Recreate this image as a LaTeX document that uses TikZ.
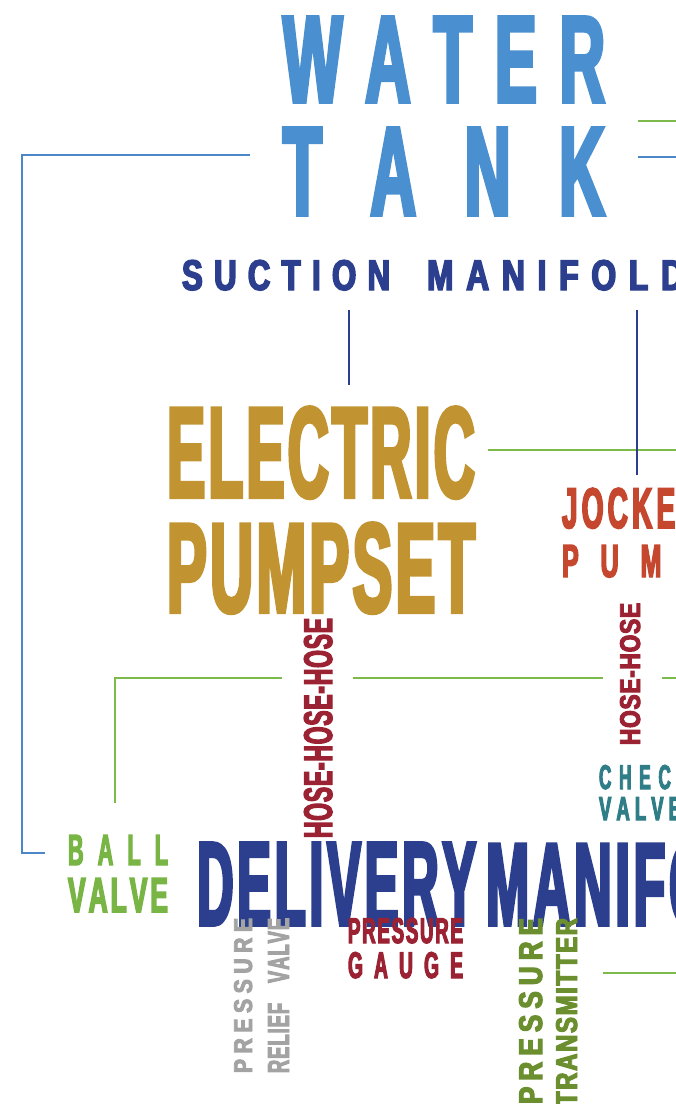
\documentclass[tikz,border=0pt]{standalone}
\usepackage{fontspec}
\usepackage{graphicx}
\newfontfamily\condfont[FakeStretch=0.55,FakeBold=3]{Liberation Sans}
\makeatletter
\newcommand\lsp[2]{\def\lsp@gap{#1}\lsp@first#2\@nil}
\def\lsp@first#1#2\@nil{#1\ifx\relax#2\relax\else\lsp@rest#2\@nil\fi}
\def\lsp@rest#1#2\@nil{\hspace{\lsp@gap}#1\ifx\relax#2\relax\else\lsp@rest#2\@nil\fi}
\makeatother
\newcommand\fit[3]{\resizebox{#1pt}{#2pt}{\condfont\bfseries #3}}
\definecolor{tankblue}{HTML}{4A8FD0}
\definecolor{lineblue}{HTML}{4C88C9}
\definecolor{navy}{HTML}{2B3F8E}
\definecolor{goldc}{HTML}{C29431}
\definecolor{jockeyc}{HTML}{C5472E}
\definecolor{hosec}{HTML}{9B2233}
\definecolor{lgreen}{HTML}{7DBA4C}
\definecolor{tealc}{HTML}{2F7E87}
\definecolor{ballc}{HTML}{78B545}
\definecolor{grayc}{HTML}{A3A3A3}
\definecolor{olivec}{HTML}{6B8E2E}
\tikzset{
  lbl/.style={anchor=north west, inner sep=0pt, outer sep=0pt},
  vlbl/.style={anchor=north west, inner sep=0pt, outer sep=0pt, rotate=90},
  conn/.style={line width=1.8pt},
}
\begin{document}
\begin{tikzpicture}[x=1pt,y=-1pt]
\useasboundingbox (0,0) rectangle (676,1104);
\clip (0,0) rectangle (676,1104);
% ---- labels ----
\node[lbl, text=tankblue] (water) at (283,17) {\fit{322}{85}{\lsp{0.2em}{WATER}}};
\node[lbl, text=tankblue] (tank) at (283,128) {\fit{322}{87}{\lsp{0.42em}{TANK}}};
\node[lbl, text=navy] (suction) at (182,260) {\fit{208}{30}{\lsp{0.2em}{SUCTION}}};
\node[lbl, text=navy] (smanifold) at (427,260) {\fit{257}{30}{\lsp{0.22em}{MANIFOLD}}};
\node[lbl, text=goldc] (electric) at (167,407) {\fit{308}{90}{\lsp{0.03em}{ELECTRIC}}};
\node[lbl, text=goldc] (pumpset) at (167,523) {\fit{308}{89}{\lsp{0.03em}{PUMPSET}}};
\node[lbl, text=jockeyc] (jockey) at (562,488) {\fit{136}{40}{\lsp{0.08em}{JOCKEY}}};
\node[lbl, text=jockeyc] (jpump) at (562,545) {\fit{138}{32}{\lsp{0.48em}{PUMP}}};
\node[vlbl, text=hosec] (hose3) at (304,838) {\fit{220}{28}{\lsp{0.02em}{HOSE-HOSE-HOSE}}};
\node[vlbl, text=hosec] (hose2) at (620,745) {\fit{142}{20}{\lsp{0.02em}{HOSE-HOSE}}};
\node[lbl, text=tealc] (check) at (599,765) {\fit{92}{24}{\lsp{0.25em}{CHECK}}};
\node[lbl, text=tealc] (cvalve) at (599,797) {\fit{82}{23}{\lsp{0.15em}{VALVE}}};
\node[lbl, text=ballc] (ball) at (68,835) {\fit{100}{30}{\lsp{0.36em}{BALL}}};
\node[lbl, text=ballc] (bvalve) at (68,878) {\fit{100}{34}{\lsp{0.06em}{VALVE}}};
\node[lbl, text=navy] (delivery) at (197,843) {\fit{279}{82}{\lsp{0.04em}{DELIVERY}}};
\node[lbl, text=navy] (dmanifold) at (486,843) {\fit{300}{82}{\lsp{0.04em}{MANIFOLD}}};
\node[vlbl, text=grayc] (prvp) at (234,1073) {\fit{155}{18}{\lsp{0.15em}{PRESSURE}}};
\node[vlbl, text=grayc] (prvr) at (268,1073) {\fit{155}{21}{\lsp{0.03em}{RELIEF}\hspace{0.6em}\lsp{0.03em}{VALVE}}};
\node[lbl, text=hosec] (pgp) at (348,918) {\fit{115}{25}{\lsp{0.05em}{PRESSURE}}};
\node[lbl, text=hosec] (pgg) at (348,952) {\fit{115}{26}{\lsp{0.32em}{GAUGE}}};
\node[vlbl, text=olivec] (ptp) at (519,1104) {\fit{186}{23}{\lsp{0.13em}{PRESSURE}}};
\node[vlbl, text=olivec] (ptt) at (556,1106) {\fit{188}{21}{\lsp{0.04em}{TRANSMITTER}}};
% ---- connector points ----
\coordinate (b1) at (250,155);
\coordinate (b2) at (22,155);
\coordinate (b3) at (22,853);
\coordinate (b4) at (45,853);
\coordinate (tg1) at (638,121);
\coordinate (tg2) at (676,121);
\coordinate (tb1) at (638,157);
\coordinate (tb2) at (676,157);
\coordinate (s1) at (349,310);
\coordinate (s2) at (349,385);
\coordinate (m1) at (637,310);
\coordinate (m2) at (637,475);
\coordinate (e1) at (488,450);
\coordinate (e2) at (676,450);
\coordinate (g1) at (115,803);
\coordinate (g2) at (115,678);
\coordinate (g3) at (282,678);
\coordinate (g4) at (353,678);
\coordinate (g5) at (603,678);
\coordinate (g6) at (662,678);
\coordinate (g7) at (676,678);
\coordinate (t1) at (603,973);
\coordinate (t2) at (676,973);
% ---- connectors ----
\draw[conn, lineblue] (b1) -- (b2) -- (b3) -- (b4);
\draw[conn, lgreen] (tg1) -- (tg2);
\draw[conn, lineblue] (tb1) -- (tb2);
\draw[conn, navy] (s1) -- (s2);
\draw[conn, lgreen] (e1) -- (e2);
\draw[conn, navy] (m1) -- (m2);
\draw[conn, lgreen] (g1) -- (g2) -- (g3);
\draw[conn, lgreen] (g4) -- (g5);
\draw[conn, lgreen] (g6) -- (g7);
\draw[conn, lgreen] (t1) -- (t2);
\end{tikzpicture}
\end{document}
